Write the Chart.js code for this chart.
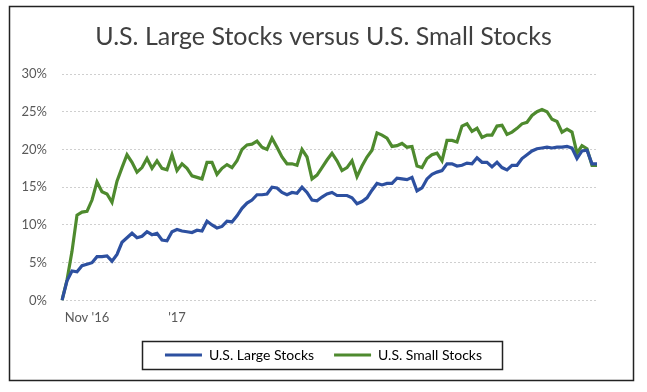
<!DOCTYPE html>
<html>
<head>
<meta charset="utf-8">
<script src="https://cdn.jsdelivr.net/npm/chart.js@4/dist/chart.umd.min.js"></script>
<style>
  html, body { margin: 0; padding: 0; background: #fff; }
  #wrap { position: relative; width: 647px; height: 392px; }
</style>
</head>
<body>
<div id="wrap"><canvas id="stocksChart" width="647" height="392"></canvas></div>
<script>
// ============================================================
// DATA — cumulative return since Nov '16 (%)
// ============================================================

const xLabels = [
  "", "", "", "", "", "Nov '16", "", "", "", "",
  "", "", "", "", "", "", "", "", "", "",
  "", "", "", "'17", "", "", "", "", "", "",
  "", "", "", "", "", "", "", "", "", "",
  "", "", "", "", "", "", "", "", "", "",
  "", "", "", "", "", "", "", "", "", "",
  "", "", "", "", "", "", "", "", "", "",
  "", "", "", "", "", "", "", "", "", "",
  "", "", "", "", "", "", "", "", "", "",
  "", "", "", "", "", "", "", "", "", "",
  "", "", "", "", "", "", "", ""
];

const largeStocks = [
  0, 2.6, 3.9, 3.8, 4.6, 4.8, 5.0, 5.8, 5.8, 5.9,
  5.2, 6.1, 7.7, 8.3, 8.9, 8.3, 8.5, 9.1, 8.7, 8.9,
  8.0, 7.9, 9.1, 9.4, 9.2, 9.1, 9.0, 9.3, 9.2, 10.5,
  10.0, 9.6, 9.8, 10.5, 10.4, 11.2, 12.2, 12.9, 13.3, 14.0,
  14.0, 14.1, 15.0, 14.9, 14.3, 14.0, 14.3, 14.2, 15.0, 14.3,
  13.3, 13.2, 13.7, 14.1, 14.3, 13.9, 13.9, 13.9, 13.6, 12.8,
  13.1, 13.6, 14.6, 15.5, 15.3, 15.5, 15.5, 16.2, 16.1, 16.0,
  16.3, 14.5, 14.9, 16.1, 16.7, 17.0, 17.2, 18.1, 18.1, 17.8,
  17.9, 18.2, 18.1, 18.9, 18.3, 18.3, 17.7, 18.3, 17.6, 17.3,
  17.9, 17.9, 18.8, 19.3, 19.8, 20.1, 20.2, 20.3, 20.2, 20.3,
  20.3, 20.4, 20.2, 18.8, 19.8, 19.9, 18.1, 18.1
];

const smallStocks = [
  0, 2.7, 6.5, 11.3, 11.7, 11.8, 13.3, 15.7, 14.4, 14.1,
  13.0, 15.8, 17.6, 19.3, 18.3, 17.0, 17.6, 18.8, 17.5, 18.5,
  17.5, 17.3, 19.3, 17.2, 18.1, 17.5, 16.5, 16.3, 16.1, 18.3,
  18.3, 16.7, 17.5, 18.0, 17.6, 18.5, 20.0, 20.6, 20.7, 21.1,
  20.3, 20.0, 21.5, 20.3, 19.0, 18.1, 18.1, 17.9, 20.0, 19.0,
  16.1, 16.6, 17.6, 18.6, 19.5, 18.5, 17.2, 17.6, 18.5, 16.4,
  17.8, 19.0, 19.9, 22.2, 21.9, 21.5, 20.4, 20.5, 20.8, 20.3,
  20.4, 17.8, 17.6, 18.8, 19.3, 19.5, 18.5, 21.2, 21.2, 21.0,
  23.1, 23.4, 22.4, 22.8, 21.6, 21.9, 21.9, 23.1, 23.2, 22.0,
  22.3, 22.8, 23.4, 23.6, 24.5, 25.0, 25.3, 25.0, 24.0, 23.7,
  22.3, 22.7, 22.3, 19.5, 20.5, 20.1, 17.9, 17.9
];

const yTicks = [0, 5, 10, 15, 20, 25, 30];

// ============================================================
// STYLE
// ============================================================

const FONT = "Lato, 'Open Sans', sans-serif";
const TEXT_GREY = "#595959";
const BLUE = "#2d50a0";
const GREEN = "#4e8a2e";

// outer frame + box round the legend
const framePlugin = {
  id: "framePlugin",
  afterDraw(chart) {
    const ctx = chart.ctx;
    ctx.save();
    ctx.strokeStyle = "#222";
    ctx.lineWidth = 1.5;
    ctx.strokeRect(9.5, 6.5, 624, 374);

    const boxes = chart.legend.legendHitBoxes || [];
    if (boxes.length) {
      const left = Math.min(...boxes.map(b => b.left)) - 23;
      const right = Math.max(...boxes.map(b => b.left + b.width)) + 20;
      const top = boxes[0].top - 7;
      const bottom = boxes[0].top + boxes[0].height + 7;
      ctx.strokeRect(Math.round(left) + 0.5, Math.round(top) + 0.5,
        Math.round(right - left), Math.round(bottom - top));
    }
    ctx.restore();
  }
};

// ============================================================
// CHART
// ============================================================

new Chart(document.getElementById("stocksChart"), {
  type: "line",
  data: {
    labels: xLabels,
    datasets: [
      {
        label: "U.S. Large Stocks",
        data: largeStocks,
        borderColor: BLUE,
        backgroundColor: BLUE,
        borderWidth: 3.2,
        pointRadius: 0,
        tension: 0
      },
      {
        label: "U.S. Small Stocks",
        data: smallStocks,
        borderColor: GREEN,
        backgroundColor: GREEN,
        borderWidth: 3.2,
        pointRadius: 0,
        tension: 0
      }
    ]
  },
  options: {
    responsive: false,
    animation: false,
    layout: {
      padding: { left: 0, right: 0, top: 0, bottom: 20 }
    },
    plugins: {
      title: {
        display: true,
        text: "U.S. Large Stocks versus U.S. Small Stocks",
        color: "#404040",
        font: { family: FONT, size: 25, weight: "normal" },
        padding: { top: 22, bottom: 22 }
      },
      legend: {
        position: "bottom",
        labels: {
          color: TEXT_GREY,
          font: { family: FONT, size: 14 },
          boxWidth: 37,
          boxHeight: 3,
          padding: 20,
          generateLabels(chart) {
            return chart.data.datasets.map((ds, i) => ({
              text: ds.label,
              fillStyle: ds.borderColor,
              strokeStyle: ds.borderColor,
              lineWidth: 0,
              datasetIndex: i
            }));
          }
        }
      },
      tooltip: { enabled: false }
    },
    scales: {
      x: {
        grid: { display: false },
        border: { display: false },
        ticks: {
          autoSkip: false,
          maxRotation: 0,
          color: TEXT_GREY,
          font: { family: FONT, size: 13 },
          padding: 2,
          callback: function (value, index) {
            return xLabels[index] || null;
          }
        }
      },
      y: {
        min: yTicks[0],
        max: yTicks[yTicks.length - 1],
        afterFit(scale) {
          scale.width = 62;
        },
        afterBuildTicks(scale) {
          scale.ticks = yTicks.map(v => ({ value: v }));
        },
        grid: {
          color: "#cfcfcf",
          drawTicks: false
        },
        border: { display: false, dash: [2, 2] },
        ticks: {
          color: TEXT_GREY,
          font: { family: FONT, size: 13 },
          padding: 15,
          callback: function (value) {
            return value + "%";
          }
        }
      },
      // empty right-hand axis: only reserves the white margin right of the plot
      yRight: {
        position: "right",
        grid: { display: false },
        border: { display: false },
        ticks: { display: false },
        afterFit(scale) {
          scale.width = 50;
        }
      }
    }
  },
  plugins: [framePlugin]
});
</script>
</body>
</html>
